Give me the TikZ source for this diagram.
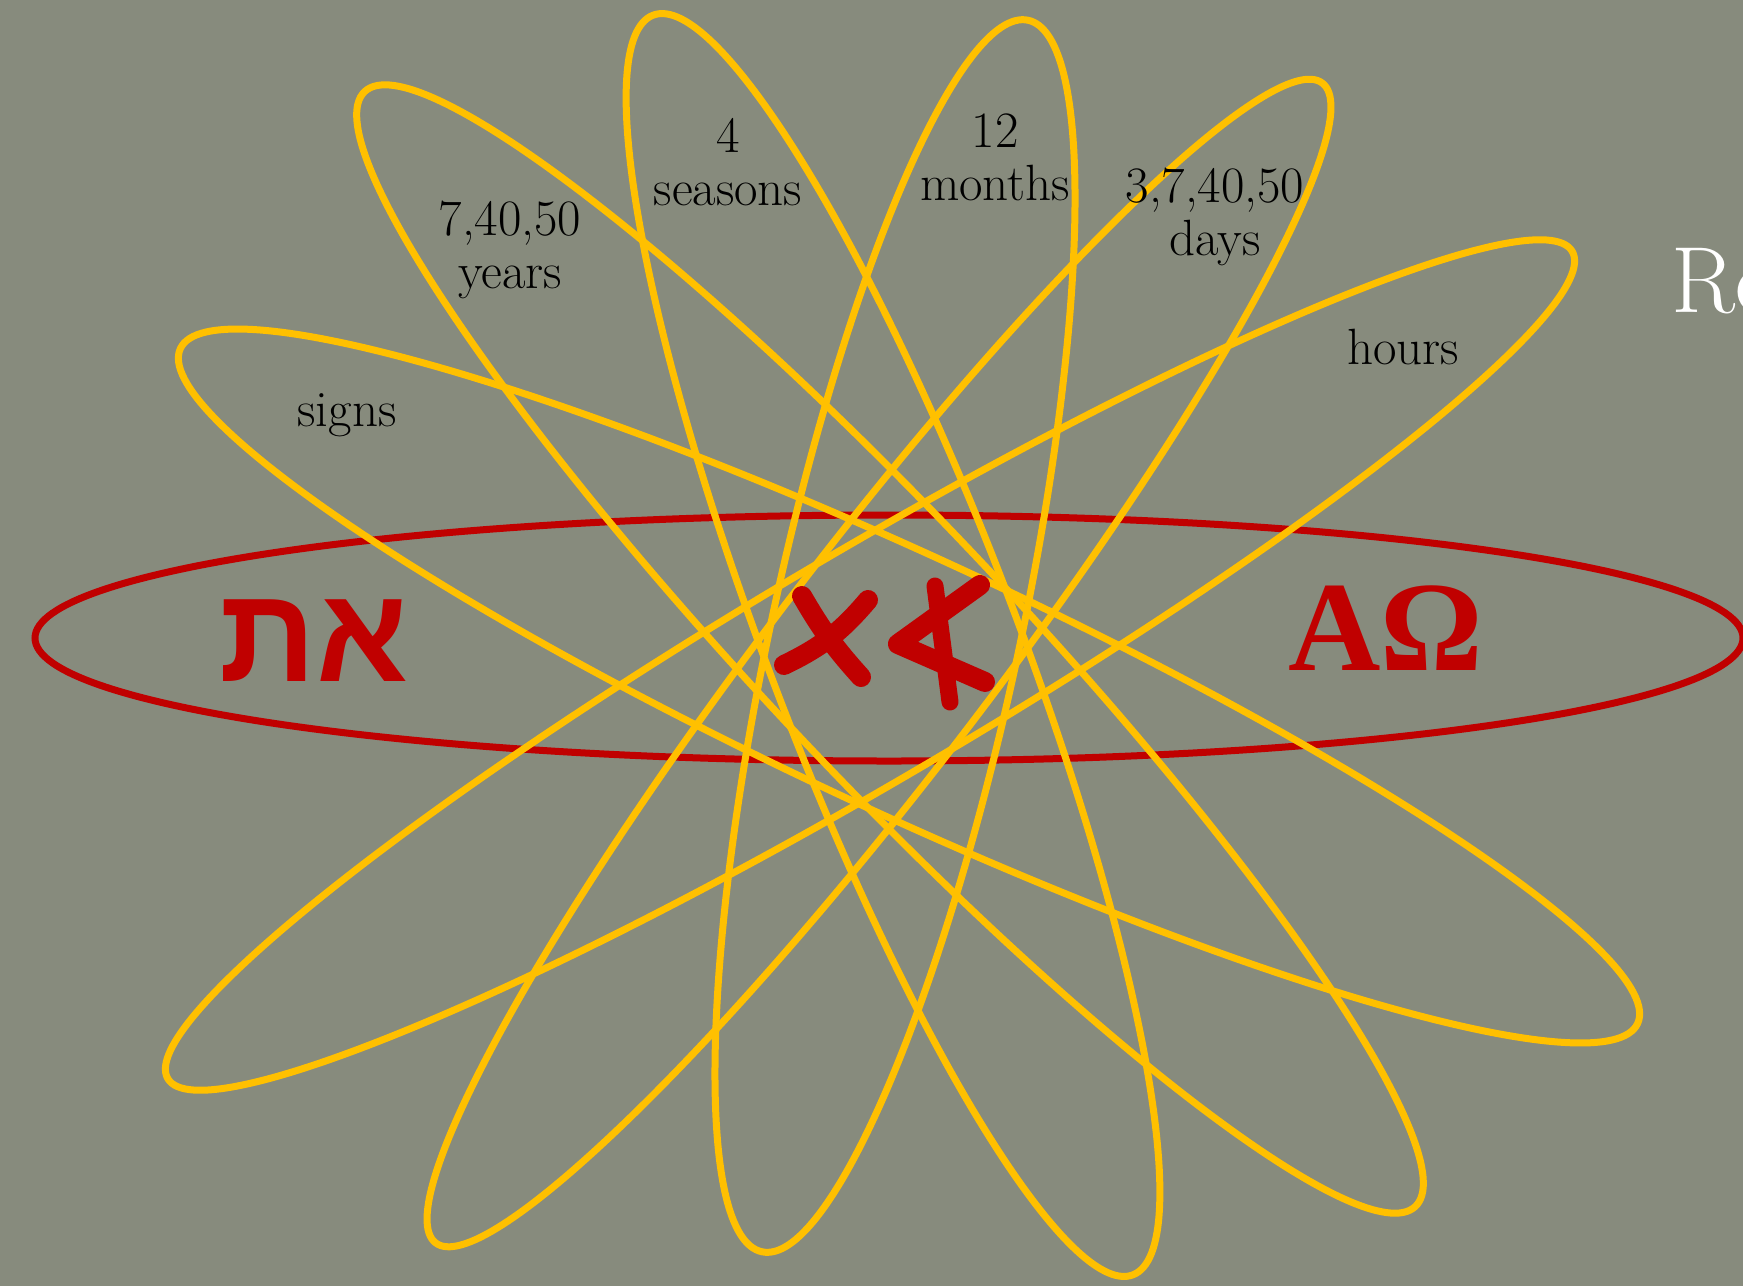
\documentclass[tikz,border=0pt]{standalone}
\usepackage{fontspec}
\newfontfamily\hebfont[Script=Hebrew]{Liberation Sans}
\newfontfamily\grkfont{Liberation Serif}
\TeXXeTstate=1
\definecolor{paper}{RGB}{135,139,125}
\definecolor{gold}{RGB}{255,192,0}
\definecolor{deepred}{RGB}{192,0,0}
\newcommand\osn[1]{{\addfontfeatures{Numbers=OldStyle}#1}}
\tikzset{
  lab/.style={font=\fontsize{51}{53}\selectfont,align=center,inner sep=0pt},
  big/.style={text=deepred,inner sep=0pt},
  stroke/.style={deepred,line width=20pt,line cap=round,line join=round}
}

\begin{document}
\begin{tikzpicture}[x=1pt,y=-1pt,line width=7pt]
\useasboundingbox (0,0) rectangle (1743,1286);
\clip (0,0) rectangle (1743,1286);
\fill[paper] (0,0) rectangle (1743,1286);
\draw[deepred] (889,638) ellipse [x radius=854, y radius=123];
\foreach \cx/\cy/\ra/\rb/\ang in {909/686/803/128/-24.85,890/649/766/126/-46.7,893/645/674/125/-69.15,
    895/636/630/124/77.8,879/663/730/110/52.6,870/665/815/114/30.5}{
  \draw[gold,shift={(\cx,\cy)},rotate=\ang] (0,0) ellipse [x radius=\ra, y radius=\rb];
}

\node[lab] (signs) at (347,415) {signs};
\node[lab] (years) at (510,250) {\osn{7,40,50}\\years};
\node[lab] (seasons) at (728,162) {\osn{4}\\seasons};
\node[lab] (months) at (995,157) {\osn{12}\\months};
\node[lab] (days) at (1215,217) {\osn{3,7,40,50}\\days};
\node[lab] (hours) at (1403,347) {hours};

\node[big,font=\hebfont\bfseries\fontsize{135}{135}\selectfont] (alef) at (314,641) {\beginR את\endR};
\node[big,font=\grkfont\bfseries\fontsize{128}{128}\selectfont] (omega) at (1386,628) {AΩ};
\node[white,anchor=base west,inner sep=0pt,font=\fontsize{94}{94}\selectfont] (re) at (1668,312) {Re};

% paleo tav and aleph
\draw[stroke] (802,596) to[bend right=6] (861,677);
\draw[stroke] (868,600) to[bend left=12] (784,665);
\draw[stroke,line width=17pt] (935,586) -- (950,702);
\draw[stroke] (980,585) -- (898,644) -- (985,682);
\end{tikzpicture}
\end{document}
